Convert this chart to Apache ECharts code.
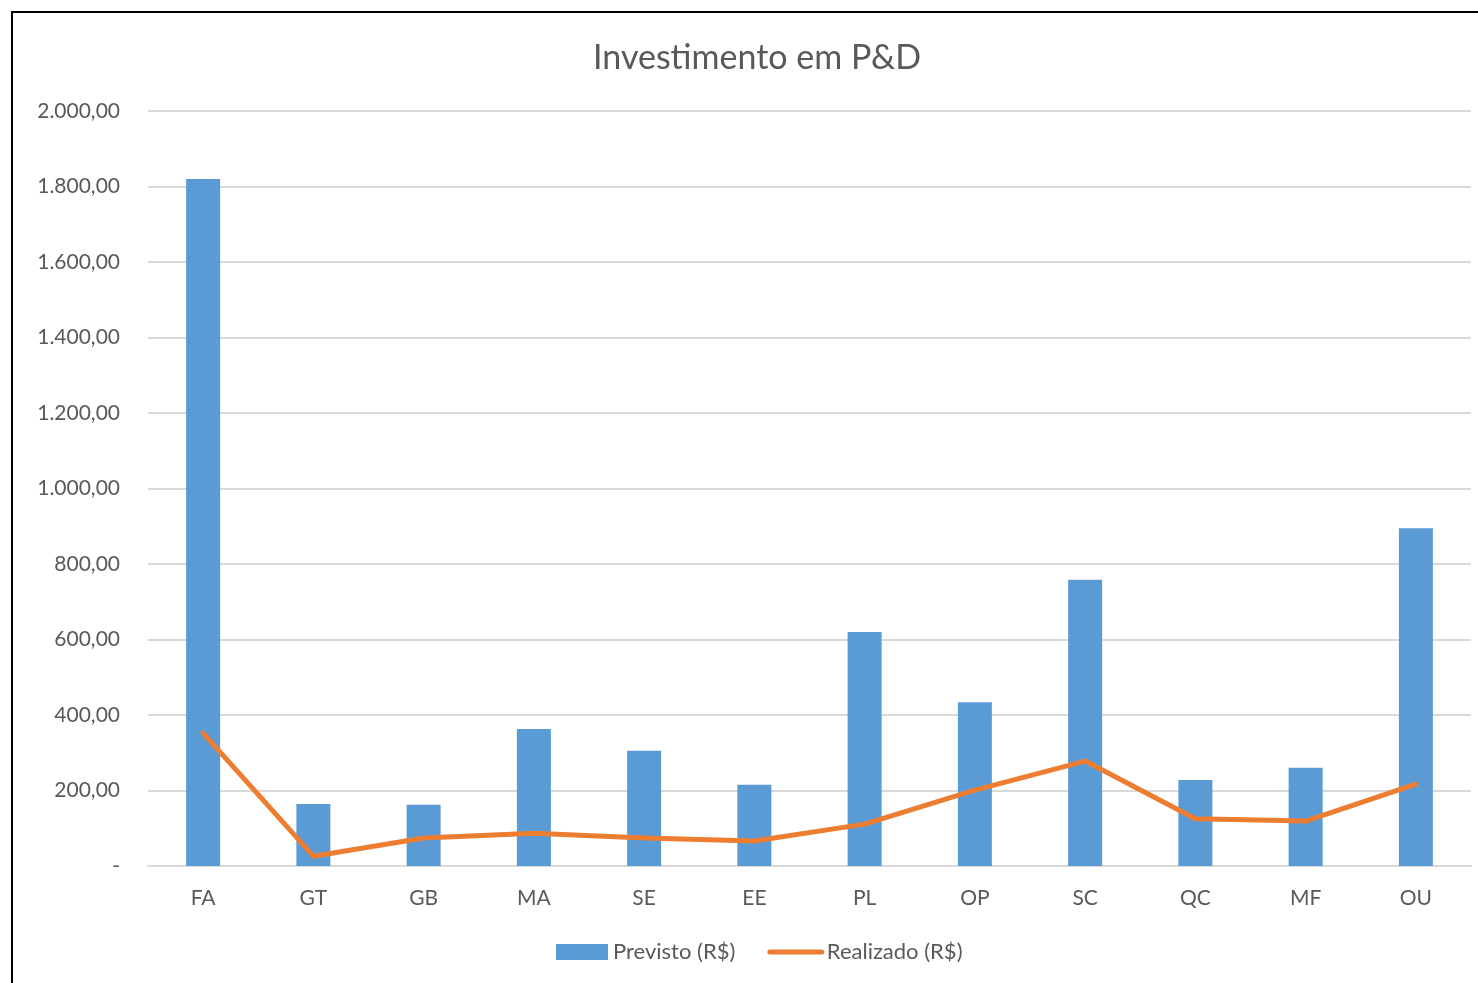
<!DOCTYPE html>
<html>
<head>
<meta charset="utf-8">
<script src="https://cdn.jsdelivr.net/npm/echarts@6/dist/echarts.min.js"></script>
<style>
html,body{margin:0;padding:0;background:#fff;}
#chart{width:1478px;height:983px;}
</style>
</head>
<body>
<div id="chart"></div>
<script>
const categories = ['FA','GT','GB','MA','SE','EE','PL','OP','SC','QC','MF','OU'];
const previsto = [1820, 164, 162, 363, 305, 215, 620, 434, 758, 228, 260, 895];
const realizado = [352, 26, 74, 87, 74, 66, 111, 201, 278, 125, 119, 217];
const seriesNames = ['Previsto (R$)', 'Realizado (R$)'];
const titleText = 'Investimento em P&D';

const FONT = 'Lato, "Open Sans", sans-serif';
function fmt(v){
  if (v === 0) return '-';
  return v.toLocaleString('pt-BR',{minimumFractionDigits:2, maximumFractionDigits:2});
}
const chart = echarts.init(document.getElementById('chart'));
chart.setOption({
  animation:false,
  backgroundColor:'#fff',
  title:{text:titleText,left:588,top:36,
    textStyle:{fontFamily:FONT,fontSize:34,fontWeight:'normal',color:'#595959'}},
  legend:{bottom:15,left:551,itemGap:32,itemWidth:52,itemHeight:16,
    textStyle:{fontFamily:FONT,fontSize:22,color:'#595959'},
    data:[{name:seriesNames[0],icon:'rect'},
          {name:seriesNames[1],itemStyle:{opacity:0},
           lineStyle:{width:5,cap:'round',color:'#ED7D31'}}]},
  grid:{left:148,right:7,top:111,bottom:117,containLabel:false},
  xAxis:{type:'category',data:categories,
    axisLine:{lineStyle:{color:'#d9d9d9',width:2}},axisTick:{show:false},
    axisLabel:{fontFamily:FONT,fontSize:21,color:'#595959',margin:22}},
  yAxis:{type:'value',min:0,max:2000,interval:200,
    axisLine:{show:false},axisTick:{show:false},
    splitLine:{lineStyle:{color:'#d9d9d9',width:2}},
    axisLabel:{fontFamily:FONT,fontSize:21,color:'#595959',margin:28,formatter:fmt}},
  series:[
    {name:seriesNames[0],type:'bar',data:previsto,barWidth:34,
     itemStyle:{color:'#5B9BD5'}},
    {name:seriesNames[1],type:'line',data:realizado,symbol:'none',
     lineStyle:{color:'#ED7D31',width:5,cap:'round',join:'round'},
     itemStyle:{color:'#ED7D31'}}
  ],
  graphic:[{type:'rect',shape:{x:12,y:12,width:1520,height:1020},
    style:{fill:'none',stroke:'#000',lineWidth:2},silent:true,z:100}]
});
</script>
</body>
</html>
